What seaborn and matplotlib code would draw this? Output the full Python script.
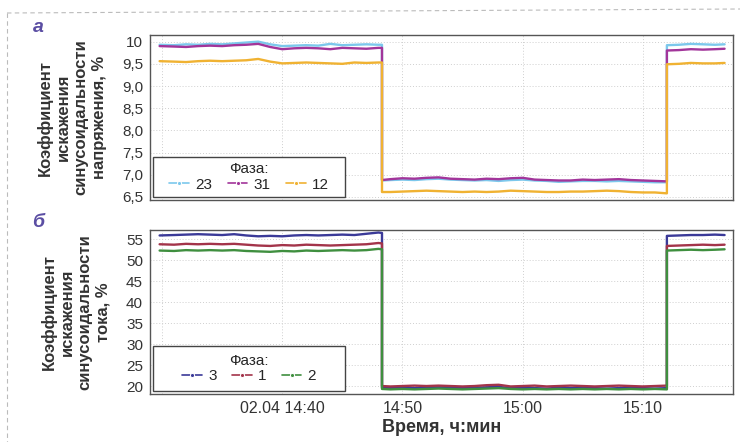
import matplotlib
matplotlib.use("Agg")
import matplotlib.pyplot as plt
import seaborn as sns
import pandas as pd
from matplotlib import font_manager
from matplotlib.patches import Rectangle
from matplotlib.lines import Line2D

# -------- data (minutes after 14:30) --------
minutes = [-0.2, 1, 2, 3, 4, 5, 6, 7, 8, 9, 10, 11, 12, 13, 14, 15, 16, 17, 18, 18.3,
           18.3, 19, 20, 21, 22, 23, 24, 25, 26, 27, 28, 29, 30, 31, 32, 33, 34, 35,
           36, 37, 38, 39, 40, 41, 42.0,
           42.0, 43, 44, 45, 46, 46.8]

# voltage THD, %
u_23 = [9.93, 9.92, 9.94, 9.93, 9.95, 9.94, 9.96, 9.98, 10.00, 9.94, 9.90, 9.91, 9.92, 9.91, 9.95, 9.92, 9.93, 9.94, 9.93, 9.93,
        6.87, 6.88, 6.89, 6.88, 6.90, 6.91, 6.89, 6.88, 6.87, 6.88, 6.86, 6.88, 6.89, 6.87, 6.86, 6.84, 6.85, 6.86, 6.86, 6.85, 6.86, 6.85, 6.84, 6.83, 6.83,
        9.92, 9.93, 9.95, 9.94, 9.93, 9.94]
u_31 = [9.90, 9.89, 9.88, 9.90, 9.91, 9.90, 9.92, 9.93, 9.95, 9.88, 9.83, 9.85, 9.86, 9.85, 9.83, 9.86, 9.85, 9.84, 9.86, 9.86,
        6.88, 6.90, 6.92, 6.91, 6.93, 6.94, 6.91, 6.90, 6.89, 6.91, 6.90, 6.92, 6.93, 6.89, 6.88, 6.87, 6.87, 6.89, 6.88, 6.89, 6.90, 6.88, 6.87, 6.86, 6.85,
        9.80, 9.81, 9.83, 9.82, 9.83, 9.84]
u_12 = [9.56, 9.55, 9.54, 9.56, 9.57, 9.56, 9.57, 9.58, 9.61, 9.55, 9.51, 9.52, 9.53, 9.52, 9.51, 9.50, 9.53, 9.52, 9.53, 9.53,
        6.61, 6.61, 6.62, 6.63, 6.64, 6.63, 6.62, 6.61, 6.62, 6.61, 6.62, 6.64, 6.63, 6.62, 6.61, 6.61, 6.62, 6.62, 6.63, 6.64, 6.63, 6.61, 6.60, 6.60, 6.58,
        9.49, 9.50, 9.52, 9.51, 9.51, 9.52]

# current THD, %
i_3 = [55.9, 56.0, 56.1, 56.2, 56.1, 56.0, 56.2, 55.9, 55.7, 55.8, 55.7, 55.9, 56.0, 55.9, 56.0, 56.1, 56.0, 56.3, 56.6, 56.5,
       19.6, 19.5, 19.6, 19.5, 19.6, 19.7, 19.6, 19.5, 19.6, 19.7, 19.8, 19.5, 19.6, 19.5, 19.4, 19.6, 19.5, 19.6, 19.5, 19.4, 19.5, 19.6, 19.5, 19.4, 19.5,
       55.8, 55.9, 56.0, 56.0, 56.1, 56.0]
i_1 = [53.8, 53.7, 53.9, 53.8, 53.9, 53.8, 53.9, 53.7, 53.5, 53.4, 53.6, 53.5, 53.7, 53.6, 53.5, 53.6, 53.7, 53.8, 54.1, 54.0,
       20.0, 19.9, 20.0, 20.1, 20.0, 20.1, 20.0, 19.9, 20.0, 20.2, 20.3, 19.9, 20.0, 20.1, 19.9, 20.0, 20.1, 20.0, 19.9, 20.0, 20.1, 20.0, 19.9, 20.0, 20.1,
       53.4, 53.5, 53.6, 53.7, 53.6, 53.7]
i_2 = [52.3, 52.2, 52.4, 52.3, 52.4, 52.3, 52.4, 52.2, 52.1, 52.0, 52.2, 52.1, 52.3, 52.2, 52.3, 52.4, 52.3, 52.4, 52.7, 52.6,
       19.3, 19.2, 19.3, 19.2, 19.3, 19.4, 19.3, 19.2, 19.3, 19.4, 19.5, 19.3, 19.2, 19.3, 19.2, 19.3, 19.2, 19.3, 19.2, 19.3, 19.2, 19.3, 19.2, 19.3, 19.2,
       52.3, 52.4, 52.5, 52.4, 52.5, 52.6]

u_phases = ["23", "31", "12"]
i_phases = ["3", "1", "2"]
u_colors = ["#7cc8ec", "#a2359a", "#f0b232"]
i_colors = ["#3b3a98", "#a3344a", "#3f8f3f"]

x_ticks = [0, 10, 20, 30, 40]
x_ticklabels = ["", "02.04 14:40", "14:50", "15:00", "15:10"]
u_ticks = [6.5, 7.0, 7.5, 8.0, 8.5, 9.0, 9.5, 10.0]
u_ticklabels = ["6,5", "7,0", "7,5", "8,0", "8,5", "9,0", "9,5", "10"]
i_ticks = [20, 25, 30, 35, 40, 45, 50, 55]
i_ticklabels = ["20", "25", "30", "35", "40", "45", "50", "55"]

df_u = pd.DataFrame({
    "t": minutes * 3,
    "val": u_23 + u_31 + u_12,
    "phase": [u_phases[0]] * len(u_23) + [u_phases[1]] * len(u_31) + [u_phases[2]] * len(u_12),
})
df_i = pd.DataFrame({
    "t": minutes * 3,
    "val": i_3 + i_1 + i_2,
    "phase": [i_phases[0]] * len(i_3) + [i_phases[1]] * len(i_1) + [i_phases[2]] * len(i_2),
})

sns.set_theme(style="white")
installed = {f.name for f in font_manager.fontManager.ttflist}
narrow = "Liberation Sans Narrow" if "Liberation Sans Narrow" in installed else "Liberation Sans"
plt.rcParams["font.family"] = [narrow, "DejaVu Sans"]

fig = plt.figure(figsize=(7.4, 4.42), dpi=100)
ax_u = fig.add_axes([150 / 740, 1 - 200 / 442, 583 / 740, 165 / 442])
ax_i = fig.add_axes([150 / 740, 1 - 394 / 442, 583 / 740, 164 / 442])


def draw_panel(ax, df, phases, colors, yticks, yticklabels, ylim, ylabel, letter, box):
    sns.lineplot(data=df, x="t", y="val", hue="phase", hue_order=phases,
                 palette=colors, estimator=None, sort=False, lw=1.7, ax=ax)
    ax.set_xlim(-1.0, 47.5)
    ax.set_ylim(*ylim)
    ax.set_xticks(x_ticks)
    ax.set_yticks(yticks)
    ax.set_yticklabels(yticklabels, fontsize=11, color="#333333")
    ax.grid(True, color="#cfcfcf", lw=0.7, linestyle=(0, (1, 2)))
    for s in ax.spines.values():
        s.set_color("#555555")
        s.set_linewidth(1.0)
    ax.tick_params(axis="both", direction="out", length=3, width=0.8, color="#555555", pad=2)
    ax.set_xlabel("")
    ax.set_ylabel(ylabel, fontsize=12, fontweight="bold", color="#333333",
                  linespacing=1.25, labelpad=11)
    ax.text(-0.192, 0.995, letter, transform=ax.transAxes, fontsize=14, fontweight="bold",
            style="italic", color="#5b4ea3", ha="center", va="bottom")

    # legend: box a bit wider than its content, as in the original
    ax.add_patch(Rectangle((box[0], box[1]), box[2], box[3], transform=ax.transAxes,
                           fill=True, facecolor="white", edgecolor="#444444", lw=1.0, zorder=5))
    handles, labels = ax.get_legend_handles_labels()
    leg = ax.legend(handles, labels, title="Фаза:", ncol=3, frameon=False,
                    loc="center", bbox_to_anchor=(box[0] + box[2] / 2, box[1] + box[3] / 2),
                    fontsize=11, title_fontsize=11, handlelength=1.3, handletextpad=0.4,
                    columnspacing=1.0, borderpad=0.1, labelspacing=0.1)
    leg.set_zorder(6)
    for h in leg.legend_handles:
        h.set_marker("o")
        h.set_markersize(3)
        h.set_linewidth(1.2)


draw_panel(ax_u, df_u, u_phases, u_colors, u_ticks, u_ticklabels, (6.43, 10.15),
           "Коэффициент\nискажения\nсинусоидальности\nнапряжения, %", "а",
           (0.005, 0.02, 0.33, 0.24))
ax_u.set_xticklabels([])

draw_panel(ax_i, df_i, i_phases, i_colors, i_ticks, i_ticklabels, (18.1, 57.2),
           "Коэффициент\nискажения\nсинусоидальности\nтока, %", "б",
           (0.005, 0.02, 0.33, 0.27))
ax_i.set_xticklabels(x_ticklabels, fontsize=11.5, color="#333333")
ax_i.set_xlabel("Время, ч:мин", fontsize=13, fontweight="bold", color="#333333", labelpad=2)

# dashed frame of the original page
fig.add_artist(Line2D([7 / 740, 1.0], [1 - 13 / 442, 1 - 9 / 442], transform=fig.transFigure,
                      color="#bbbbbb", lw=0.8, linestyle=(0, (4, 3))))
fig.add_artist(Line2D([7 / 740, 7 / 740], [1 - 13 / 442, 0.0], transform=fig.transFigure,
                      color="#bbbbbb", lw=0.8, linestyle=(0, (4, 3))))

fig.savefig("out.png", dpi=100, facecolor="white")
